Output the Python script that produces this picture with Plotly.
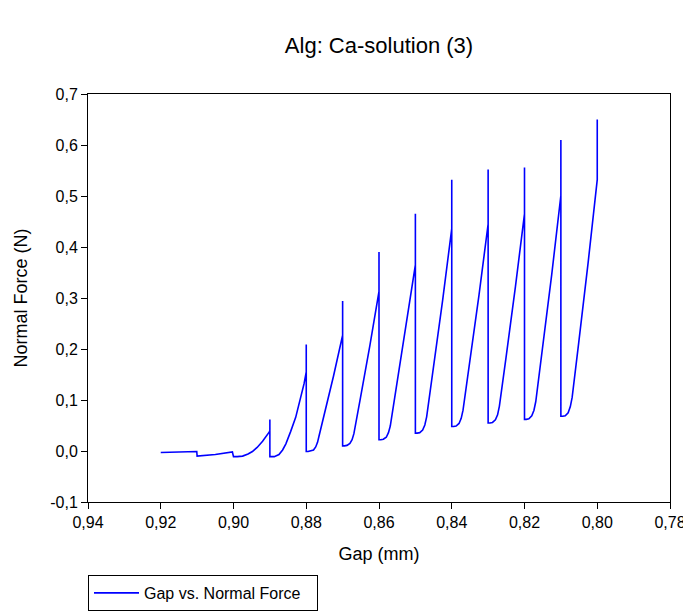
import plotly.graph_objects as go

# ---- data (Gap in mm, Normal Force in N) ----
gap_a = [0.9200, 0.9150, 0.9125, 0.9101, 0.9100]
force_a = [-0.003, -0.002, -0.001, -0.001, -0.010]

gap_b = [0.9050, 0.9003, 0.9000]
force_b = [-0.007, -0.002, -0.011]

gap_c = [0.8990, 0.8975, 0.8960, 0.8948, 0.8935, 0.8920, 0.8902, 0.8900, 0.8900, 0.8900]
force_c = [-0.011, -0.010, -0.006, -0.001, 0.007, 0.019, 0.037, 0.040, 0.062, -0.011]

gap_d = [0.8888, 0.8875, 0.8865, 0.8856, 0.8843, 0.8829, 0.8806, 0.8800, 0.8800, 0.8800]
force_d = [-0.011, -0.007, 0.002, 0.014, 0.038, 0.066, 0.132, 0.155, 0.209, -0.001]

gap_e = [0.8795, 0.8788, 0.8780, 0.8774, 0.8769, 0.8765, 0.8758, 0.8751, 0.8725, 0.8700, 0.8700, 0.8700]
force_e = [-0.001, 0.000, 0.002, 0.008, 0.017, 0.029, 0.049, 0.070, 0.147, 0.227, 0.294, 0.010]

gap_f = [0.8695, 0.8688, 0.8680, 0.8674, 0.8669, 0.8665, 0.8658, 0.8651, 0.8625, 0.8600, 0.8600, 0.8600]
force_f = [0.010, 0.011, 0.015, 0.022, 0.034, 0.049, 0.077, 0.104, 0.207, 0.313, 0.390, 0.022]

gap_g = [0.8595, 0.8588, 0.8580, 0.8574, 0.8569, 0.8565, 0.8558, 0.8551, 0.8525, 0.8500, 0.8500, 0.8500]
force_g = [0.022, 0.023, 0.027, 0.036, 0.049, 0.067, 0.097, 0.128, 0.245, 0.365, 0.465, 0.035]

gap_h = [0.8495, 0.8488, 0.8480, 0.8474, 0.8469, 0.8465, 0.8458, 0.8451, 0.8425, 0.8400, 0.8400, 0.8400]
force_h = [0.035, 0.036, 0.041, 0.051, 0.067, 0.087, 0.123, 0.159, 0.296, 0.436, 0.532, 0.048]

gap_i = [0.8395, 0.8388, 0.8380, 0.8374, 0.8369, 0.8365, 0.8358, 0.8351, 0.8325, 0.8300, 0.8300, 0.8300]
force_i = [0.048, 0.049, 0.054, 0.064, 0.080, 0.100, 0.135, 0.171, 0.306, 0.445, 0.552, 0.055]

gap_j = [0.8295, 0.8288, 0.8280, 0.8274, 0.8269, 0.8265, 0.8258, 0.8251, 0.8225, 0.8200, 0.8200, 0.8200]
force_j = [0.055, 0.056, 0.061, 0.071, 0.088, 0.108, 0.145, 0.182, 0.322, 0.465, 0.556, 0.062]

gap_k = [0.8195, 0.8188, 0.8180, 0.8174, 0.8169, 0.8165, 0.8158, 0.8151, 0.8125, 0.8100, 0.8100, 0.8100]
force_k = [0.062, 0.063, 0.069, 0.080, 0.097, 0.119, 0.159, 0.198, 0.347, 0.501, 0.610, 0.068]

gap_l = [0.8095, 0.8088, 0.8080, 0.8074, 0.8069, 0.8065, 0.8058, 0.8051, 0.8025, 0.8000, 0.8000]
force_l = [0.068, 0.069, 0.075, 0.087, 0.105, 0.128, 0.170, 0.212, 0.370, 0.532, 0.650]

gap = (gap_a + gap_b + gap_c + gap_d + gap_e + gap_f + gap_g + gap_h
       + gap_i + gap_j + gap_k + gap_l)
force = (force_a + force_b + force_c + force_d + force_e + force_f + force_g
         + force_h + force_i + force_j + force_k + force_l)

x_ticks = [0.94, 0.92, 0.90, 0.88, 0.86, 0.84, 0.82, 0.80, 0.78]
x_tick_labels = ["0,94", "0,92", "0,90", "0,88", "0,86", "0,84", "0,82", "0,80", "0,78"]
y_ticks = [-0.1, 0.0, 0.1, 0.2, 0.3, 0.4, 0.5, 0.6, 0.7]
y_tick_labels = ["-0,1", "0,0", "0,1", "0,2", "0,3", "0,4", "0,5", "0,6", "0,7"]

FONT = "Arial, 'Liberation Sans', sans-serif"

# the page body adds an 8px offset, so the figure is sized to fit the window
W, H = 683, 604

fig = go.Figure()
fig.add_trace(go.Scatter(
    x=gap, y=force, mode="lines", name="Gap vs. Normal Force",
    line=dict(color="#0000FF", width=1.6),
))

fig.update_layout(
    template="none",
    width=W, height=H,
    margin=dict(l=80, r=21, t=86, b=110, autoexpand=False),
    paper_bgcolor="white", plot_bgcolor="white",
    font=dict(family=FONT, color="black", size=16),
    title=dict(text="Alg: Ca-solution (3)", x=0.5, xref="paper",
               y=1 - 37 / H, yref="container", yanchor="middle",
               xanchor="center", font=dict(size=22, family=FONT)),
    showlegend=True,
    legend=dict(x=80 / W, xref="container", xanchor="left",
                y=1 - 567 / H, yref="container", yanchor="top",
                orientation="h", entrywidth=168, entrywidthmode="pixels",
                bordercolor="black", borderwidth=1, bgcolor="white",
                itemwidth=45,
                font=dict(size=16, family=FONT)),
    xaxis=dict(range=[0.94, 0.78], tickvals=x_ticks, ticktext=x_tick_labels,
               automargin=False,
               showline=True, mirror=True, linecolor="black", linewidth=1,
               ticks="outside", ticklen=6, tickcolor="black",
               showgrid=False, zeroline=False,
               title=dict(text="Gap (mm)", font=dict(size=18), standoff=17),
               tickfont=dict(size=16)),
    yaxis=dict(range=[-0.1, 0.7], tickvals=y_ticks, ticktext=y_tick_labels,
               automargin=False,
               showline=True, mirror=True, linecolor="black", linewidth=1,
               ticks="outside", ticklen=6, tickcolor="black",
               showgrid=False, zeroline=False,
               title=dict(text="Normal Force (N)", font=dict(size=18), standoff=17),
               tickfont=dict(size=16)),
)

fig.write_html("out.html")
